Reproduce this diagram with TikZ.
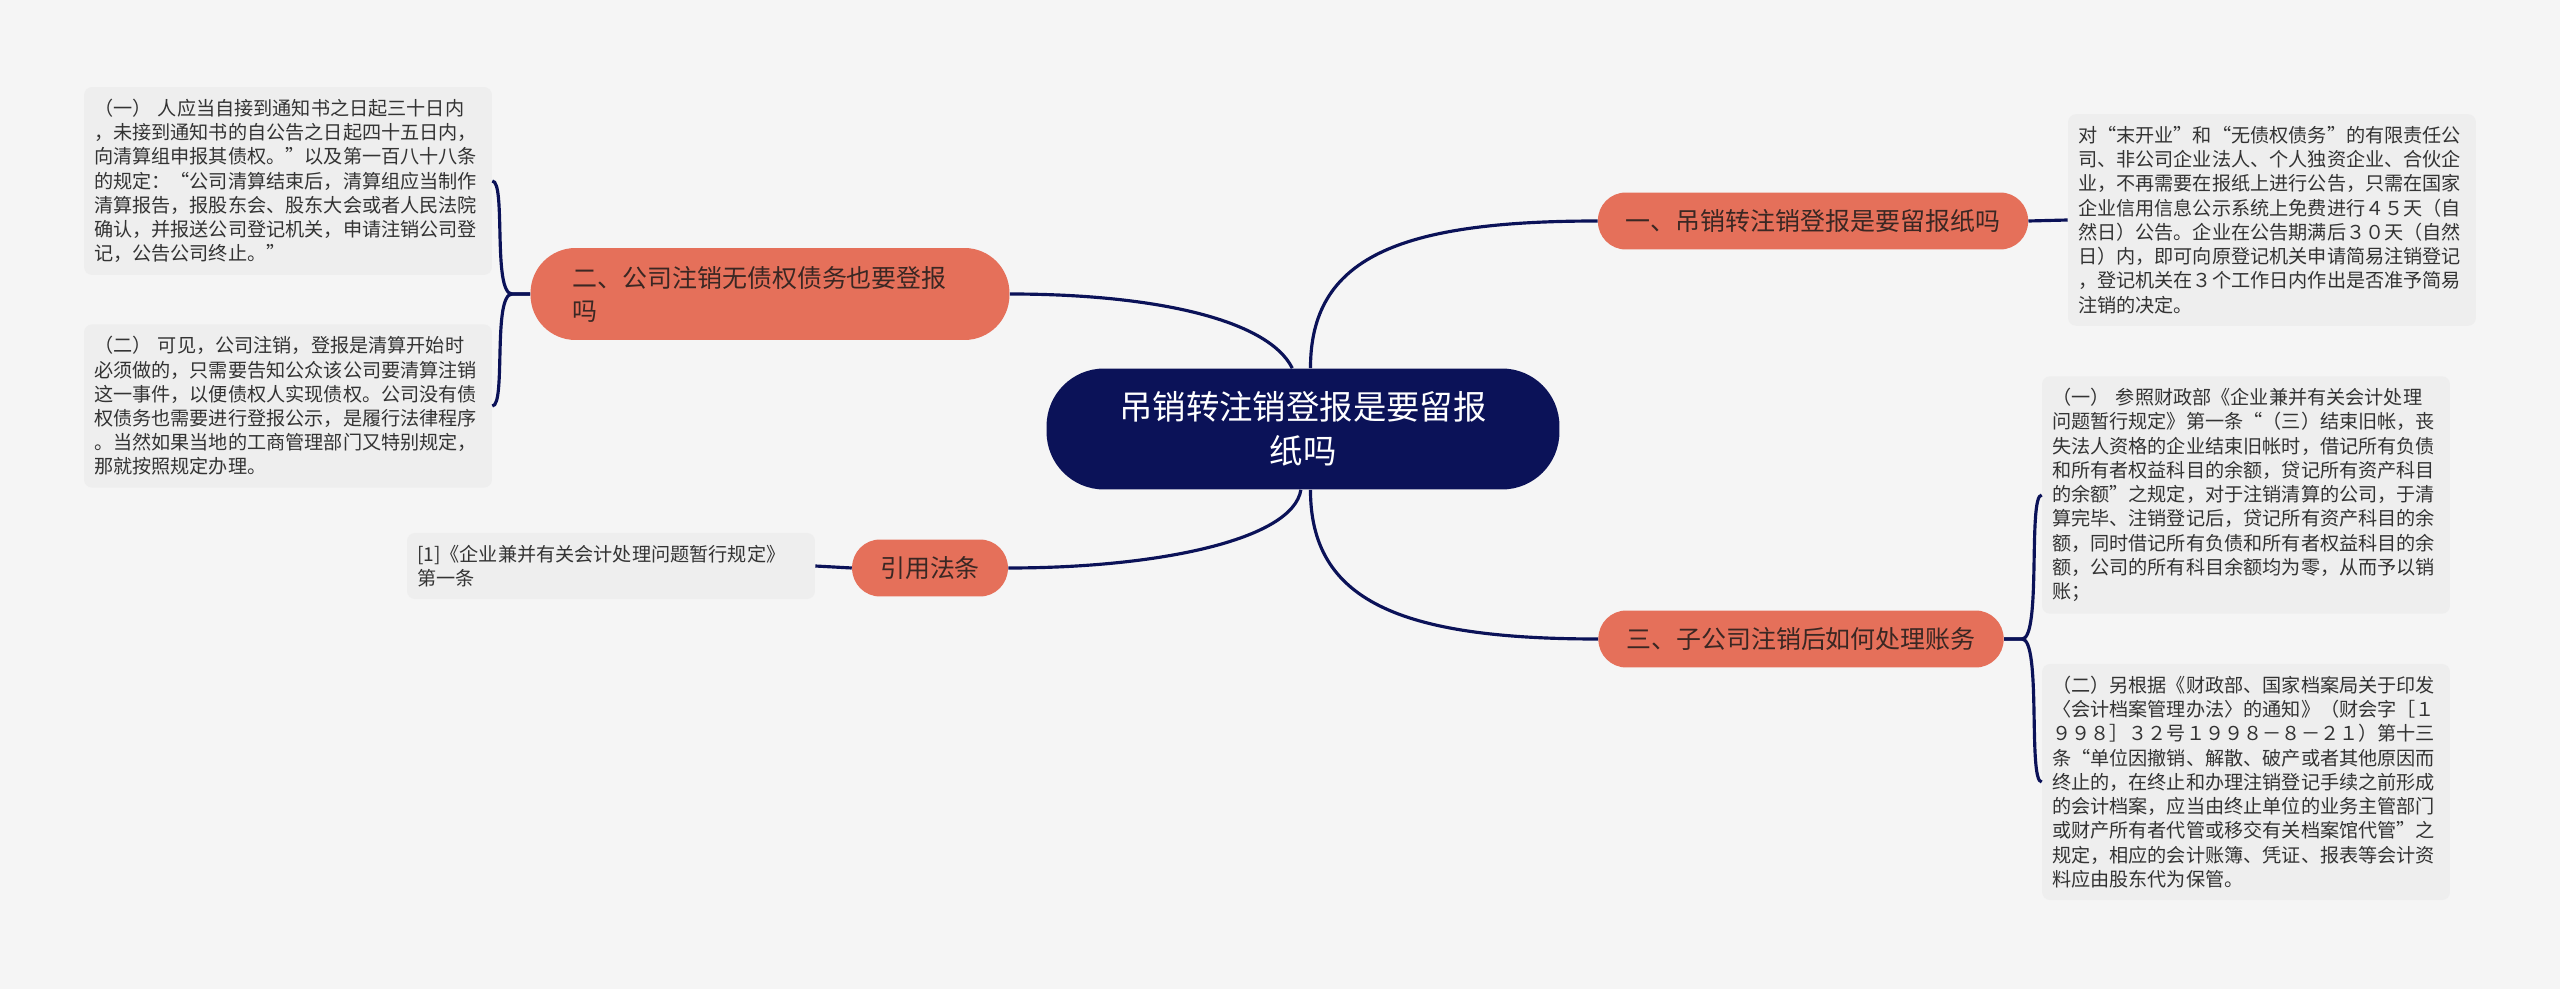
\documentclass[tikz,border=0pt]{standalone}
\usepackage{fontspec}
\setmainfont{Noto Sans CJK SC}
\usepackage{xcolor}
\usepackage{tikz}
\definecolor{mapnavy}{HTML}{0B1258}
\definecolor{mapcoral}{HTML}{E5705A}
\definecolor{mapleaf}{HTML}{EEEEEE}
\definecolor{mapbg}{HTML}{F5F5F5}
\definecolor{mapink}{HTML}{333333}
\definecolor{mapbrown}{HTML}{3A2723}

\begin{document}
\begin{tikzpicture}[x=0.02cm,y=-0.02cm,
  hub/.style={fill=mapnavy,text=white,rounded corners=1.15cm,minimum width=10.26cm,minimum height=2.42cm,align=center,font=\fontsize{19}{25}\selectfont},
  branch/.style={fill=mapcoral,text=mapbrown,rounded corners=0.56cm,minimum height=1.14cm,inner xsep=0.56cm,font=\fontsize{14.2}{18.7}\selectfont},
  leaf/.style={fill=mapleaf,text=mapink,rounded corners=0.16cm,text width=7.76cm,inner xsep=0.2cm,inner ysep=0.24cm,align=left,font=\fontsize{10.9}{13.8}\selectfont},
  link/.style={draw=mapnavy,line width=1.8pt}]
  \fill[mapbg] (0,0) rectangle (2560,989);
  \useasboundingbox (0,0) rectangle (2560,989);

  % hub and branches
  \node[hub] (hub) at (1303,429) {吊销转注销登报是要留报\\纸吗};
  \node[branch] (b1) at (1813,221) {一、吊销转注销登报是要留报纸吗};
  \node[branch] (b3) at (1801,639) {三、子公司注销后如何处理账务};
  \node[branch,text width=7.9cm,align=left,inner xsep=0.84cm,rounded corners=0.9cm,minimum height=1.84cm] (b2) at (770,294) {二、公司注销无债权债务也要登报\\吗};
  \node[branch] (bc) at (930,568) {引用法条};

  % leaves
  \node[leaf] (l1) at (288,181) {（一） 人应当自接到通知书之日起三十日内\\，未接到通知书的自公告之日起四十五日内，\\向清算组申报其债权。”以及第一百八十八条\\的规定：“公司清算结束后，清算组应当制作\\清算报告，报股东会、股东大会或者人民法院\\确认，并报送公司登记机关，申请注销公司登\\记，公告公司终止。”};
  \node[leaf] (l2) at (288,406) {（二） 可见，公司注销，登报是清算开始时\\必须做的，只需要告知公众该公司要清算注销\\这一事件，以便债权人实现债权。公司没有债\\权债务也需要进行登报公示，是履行法律程序\\。当然如果当地的工商管理部门又特别规定，\\那就按照规定办理。};
  \node[leaf] (r1) at (2272,220) {对“末开业”和“无债权债务”的有限责任公\\司、非公司企业法人、个人独资企业、合伙企\\业，不再需要在报纸上进行公告，只需在国家\\企业信用信息公示系统上免费进行４５天（自\\然日）公告。企业在公告期满后３０天（自然\\日）内，即可向原登记机关申请简易注销登记\\，登记机关在３个工作日内作出是否准予简易\\注销的决定。};
  \node[leaf] (r2) at (2246,495) {（一） 参照财政部《企业兼并有关会计处理\\问题暂行规定》第一条“（三）结束旧帐，丧\\失法人资格的企业结束旧帐时，借记所有负债\\和所有者权益科目的余额，贷记所有资产科目\\的余额”之规定，对于注销清算的公司，于清\\算完毕、注销登记后，贷记所有资产科目的余\\额，同时借记所有负债和所有者权益科目的余\\额，公司的所有科目余额均为零，从而予以销\\账；};
  \node[leaf] (r3) at (2246,782) {（二）另根据《财政部、国家档案局关于印发\\〈会计档案管理办法〉的通知》（财会字［１\\９９８］３２号１９９８－８－２１）第十三\\条“单位因撤销、解散、破产或者其他原因而\\终止的，在终止和办理注销登记手续之前形成\\的会计档案，应当由终止单位的业务主管部门\\或财产所有者代管或移交有关档案馆代管”之\\规定，相应的会计账簿、凭证、报表等会计资\\料应由股东代为保管。};
  \node[leaf] (lc) at (611,566) {[1]《企业兼并有关会计处理问题暂行规定》\\第一条};

  % links
  \draw[link] (hub.83) .. controls +(0,-110) and +(-200,0) .. (b1.west);
  \draw[link] (hub.100) .. controls +(-25,-50) and +(140,0) .. (b2.east);
  \draw[link] (hub.-83) .. controls +(0,110) and +(-200,0) .. (b3.west);
  \draw[link] (hub.-92) .. controls +(-8,50) and +(150,0) .. (bc.east);
  \draw[link] (b1.east) -- (r1.west);
  \draw[link] (bc.west) -- (lc.east);
  \foreach \leafname in {r2,r3}
    \draw[link] (b3.east) -- ++(18,0) .. controls (b3.east -| \leafname.west) and +(-14,0) .. (\leafname.west);
  \foreach \leafname in {l1,l2}
    \draw[link] (b2.west) -- ++(-18,0) .. controls (b2.west -| \leafname.east) and +(14,0) .. (\leafname.east);
\end{tikzpicture}
\end{document}
